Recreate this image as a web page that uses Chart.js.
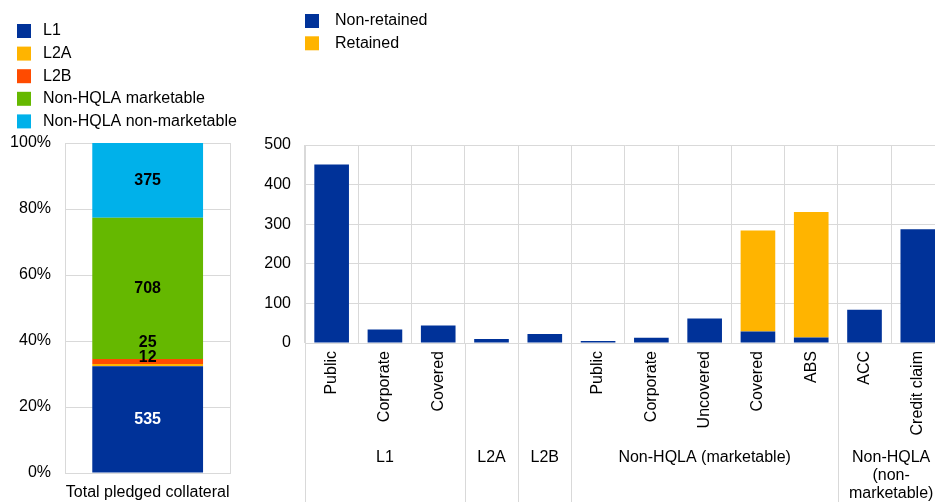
<!DOCTYPE html>
<html>
<head>
<meta charset="utf-8">
<script src="https://cdn.jsdelivr.net/npm/chart.js@4.4.1/dist/chart.umd.min.js"></script>
<style>
  html, body { margin: 0; padding: 0; width: 935px; height: 502px; overflow: hidden; background: #fff; }
  #left { position: absolute; left: 0; top: 0; }
  #right { position: absolute; left: 250px; top: 0; }
</style>
</head>
<body>
<canvas id="left" width="245" height="502"></canvas>
<canvas id="right" width="695" height="502"></canvas>
<script>
// left panel: composition of total pledged collateral
const totalLabel = ['Total pledged collateral'];
const assetClasses = ['L1', 'L2A', 'L2B', 'Non-HQLA marketable', 'Non-HQLA non-marketable'];
const pledgedTotals = [535, 12, 25, 708, 375];

// right panel: breakdown by asset type
const categories = ['Public', 'Corporate', 'Covered', '', '', 'Public', 'Corporate', 'Uncovered', 'Covered', 'ABS', 'ACC', 'Credit claim'];
const nonRetained = [451, 34, 44, 10, 23, 5, 13, 62, 29, 14, 84, 287];
const retained = [0, 0, 0, 0, 0, 0, 0, 0, 255, 317, 0, 0];
const groupNames = [['L1'], ['L2A'], ['L2B'], ['Non-HQLA (marketable)'], ['Non-HQLA', '(non-', 'marketable)']];
const groupSizes = [3, 1, 1, 5, 2];

const BLUE = '#003299', YELLOW = '#FFB400', ORANGE = '#FF4B00', GREEN = '#65B800', CYAN = '#00B1EA';
const GRID = '#d9d9d9';
const FONT_FAMILY = '"Liberation Sans", Arial, sans-serif';
Chart.defaults.font.family = FONT_FAMILY;
Chart.defaults.font.size = 16;
Chart.defaults.color = '#000';

// legend drawn as a plain column of boxes
const boxLegend = {
  id: 'boxLegend',
  afterDraw(chart, args, opts) {
    const ctx = chart.ctx;
    ctx.save();
    ctx.font = '16px ' + FONT_FAMILY;
    ctx.textBaseline = 'middle';
    chart.data.datasets.forEach((ds, i) => {
      const y = opts.y + i * opts.step;
      ctx.fillStyle = ds.backgroundColor;
      ctx.fillRect(opts.x, y - 7, 14, 14);
      ctx.fillStyle = '#000';
      ctx.fillText(ds.label, opts.x + opts.gap, y);
    });
    ctx.restore();
  }
};

// raw values written in the 100% bar
const stackLabels = {
  id: 'stackLabels',
  afterDatasetsDraw(chart, args, opts) {
    const ctx = chart.ctx;
    ctx.save();
    ctx.font = 'bold 16px ' + FONT_FAMILY;
    ctx.textAlign = 'center';
    ctx.textBaseline = 'middle';
    chart.data.datasets.forEach((ds, i) => {
      const el = chart.getDatasetMeta(i).data[0];
      const y = (el.y + el.base) / 2 + (opts.shift[i] || 0);
      ctx.fillStyle = i === 0 ? '#fff' : '#000';
      ctx.fillText(ds.raw[0], el.x, y);
    });
    ctx.restore();
  }
};

// group captions and separators below the category axis
const groupAxis = {
  id: 'groupAxis',
  afterDraw(chart) {
    const ctx = chart.ctx;
    const x = chart.scales.x;
    const half = (x.getPixelForValue(1) - x.getPixelForValue(0)) / 2;
    const bottom = chart.chartArea.bottom;
    ctx.save();
    ctx.strokeStyle = GRID;
    ctx.lineWidth = 1;
    ctx.font = '16px ' + FONT_FAMILY;
    ctx.fillStyle = '#000';
    ctx.textAlign = 'center';
    ctx.textBaseline = 'middle';
    let start = 0;
    groupSizes.forEach((n, g) => {
      const left = Math.round(x.getPixelForValue(start) - half) + 0.5;
      ctx.beginPath();
      ctx.moveTo(left, bottom);
      ctx.lineTo(left, chart.height);
      ctx.stroke();
      const cx = (x.getPixelForValue(start) + x.getPixelForValue(start + n - 1)) / 2;
      groupNames[g].forEach((line, k) => ctx.fillText(line, cx, bottom + 115 + k * 17.7));
      start += n;
    });
    ctx.restore();
  }
};

const pledgedSum = pledgedTotals.reduce((a, b) => a + b, 0);
const leftColors = [BLUE, YELLOW, ORANGE, GREEN, CYAN];

new Chart(document.getElementById('left'), {
  type: 'bar',
  data: {
    labels: totalLabel,
    datasets: assetClasses.map((name, i) => ({
      label: name,
      raw: [pledgedTotals[i]],
      data: [pledgedTotals[i] / pledgedSum * 100],
      backgroundColor: leftColors[i],
      borderWidth: 0,
      categoryPercentage: 1,
      barPercentage: 0.67
    }))
  },
  options: {
    responsive: false,
    animation: false,
    events: [],
    layout: { padding: { top: 143, right: 11, left: 0, bottom: 0 } },
    plugins: {
      legend: { display: false },
      tooltip: { enabled: false },
      boxLegend: { x: 17, y: 31, step: 22.6, gap: 26 },
      stackLabels: { shift: { 1: -8, 2: -19 } }
    },
    scales: {
      x: {
        stacked: true,
        grid: { color: GRID, drawTicks: false },
        border: { color: GRID },
        ticks: { padding: 10 },
        afterFit(s) { s.height = 29; }
      },
      y: {
        stacked: true,
        min: 0,
        max: 100,
        grid: { color: GRID, drawTicks: false },
        border: { color: GRID },
        ticks: { stepSize: 20, padding: 14, callback: v => v + '%' },
        afterFit(s) { s.width = 65; }
      }
    }
  },
  plugins: [boxLegend, stackLabels]
});

new Chart(document.getElementById('right'), {
  type: 'bar',
  data: {
    labels: categories,
    datasets: [
      { label: 'Non-retained', data: nonRetained, backgroundColor: BLUE },
      { label: 'Retained', data: retained, backgroundColor: YELLOW }
    ].map(d => Object.assign(d, { borderWidth: 0, categoryPercentage: 1, barPercentage: 0.65 }))
  },
  options: {
    responsive: false,
    animation: false,
    events: [],
    layout: { padding: { top: 145, right: 0, left: 0, bottom: 0 } },
    plugins: {
      legend: { display: false },
      tooltip: { enabled: false },
      boxLegend: { x: 55, y: 21, step: 22.3, gap: 30 }
    },
    scales: {
      x: {
        stacked: true,
        grid: { color: GRID, drawTicks: false },
        border: { color: GRID },
        ticks: { minRotation: 90, maxRotation: 90, padding: 8, autoSkip: false },
        afterFit(s) { s.height = 159; }
      },
      y: {
        stacked: true,
        min: 0,
        max: 500,
        grid: { color: GRID, drawTicks: false },
        border: { color: GRID },
        ticks: { stepSize: 100, padding: 14 },
        afterFit(s) { s.width = 55; }
      }
    }
  },
  plugins: [boxLegend, groupAxis]
});
</script>
</body>
</html>
